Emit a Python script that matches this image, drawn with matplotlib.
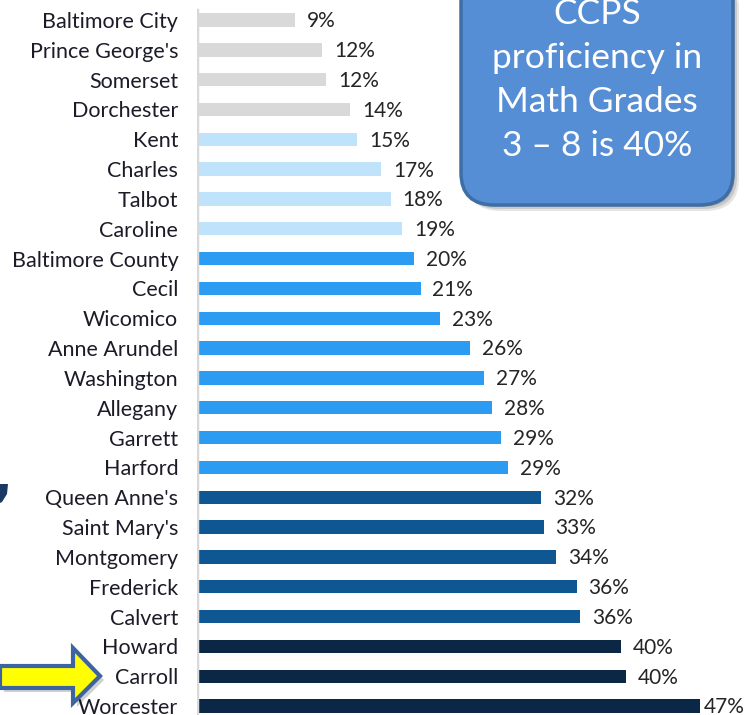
import matplotlib
matplotlib.use("Agg")
import matplotlib.pyplot as plt
from matplotlib.patches import FancyBboxPatch, Polygon

# data (top to bottom)
counties = ["Baltimore City", "Prince George's", "Somerset", "Dorchester", "Kent",
            "Charles", "Talbot", "Caroline", "Baltimore County", "Cecil", "Wicomico",
            "Anne Arundel", "Washington", "Allegany", "Garrett", "Harford",
            "Queen Anne's", "Saint Mary's", "Montgomery", "Frederick", "Calvert",
            "Howard", "Carroll", "Worcester"]
values = [9.2, 11.7, 12.1, 14.3, 15.0, 17.2, 18.1, 19.2, 20.3, 20.9, 22.7,
          25.5, 26.8, 27.6, 28.4, 29.1, 32.2, 32.4, 33.6, 35.5, 35.8,
          39.6, 40.1, 47.0]
labels = ["9%", "12%", "12%", "14%", "15%", "17%", "18%", "19%", "20%", "21%", "23%",
          "26%", "27%", "28%", "29%", "29%", "32%", "33%", "34%", "36%", "36%",
          "40%", "40%", "47%"]
groups = [0] * 4 + [1] * 4 + [2] * 8 + [3] * 5 + [4] * 3
group_colors = ["#d9d9d9", "#bfe3fb", "#2b9cf2", "#0f5792", "#0a2846"]

W, H = 749, 715
fig = plt.figure(figsize=(W / 100, H / 100), dpi=100)
fig.patch.set_facecolor("white")


def fx(x):
    return x / W


def fy(y):
    return 1 - y / H


ax = fig.add_axes([fx(197), 0, 1 - fx(197), 1])
ax.set_xlim(0, 51.6)
ax.set_ylim(23.3, -0.67)
ypos = list(range(len(counties)))
ax.barh(ypos, values, height=0.45, color=[group_colors[g] for g in groups])
for i, (v, lab) in enumerate(zip(values, labels)):
    off = 3 if i == len(values) - 1 else 8.5
    ax.annotate(lab, (v, i), xytext=(off, -1), textcoords="offset points",
                va="center", ha="left", fontsize=15, family="Lato", color="#252525")
ax.set_yticks(ypos)
ax.set_yticklabels(counties, fontsize=15.5, family="Lato", color="#1c1c28")
ax.tick_params(axis="y", length=0, pad=13.5)
ax.set_xticks([])
for s in ["top", "right", "bottom", "left"]:
    ax.spines[s].set_visible(False)
ax.axvline(0, ymin=0, ymax=1 - 10 / H, color="#d9d9d9", lw=2.5)

# callout box with shadow
for off, a in [(6, 0.10), (4, 0.12), (2, 0.15)]:
    sh = FancyBboxPatch((fx(461 + off), fy(205 + off)), fx(272), fy(-30) - fy(205),
                        boxstyle="round,pad=0,rounding_size=0.045",
                        transform=fig.transFigure, facecolor="black", alpha=a,
                        edgecolor="none", clip_on=False)
    fig.patches.append(sh)
box = FancyBboxPatch((fx(461), fy(205)), fx(272), fy(-30) - fy(205),
                     boxstyle="round,pad=0,rounding_size=0.045",
                     transform=fig.transFigure, facecolor="#558ed5",
                     edgecolor="#3e6ea6", lw=2.5, clip_on=False)
fig.patches.append(box)
box_lines = ["CCPS", "proficiency in", "Math Grades", "3 \u2013 8 is 40%"]
for k, line in enumerate(box_lines):
    fig.text(fx(597), fy(14 + 44 * k), line, ha="center", va="center",
             fontsize=25.5, family="Lato", color="white")

# yellow arrow with shadow
arrow_pts = [(0, 666), (73, 666), (73, 648), (100, 676), (73, 703), (73, 688), (0, 688)]
shadow = Polygon([(fx(x + 4), fy(y + 4)) for x, y in arrow_pts], closed=True,
                 transform=fig.transFigure, facecolor="black", alpha=0.18,
                 edgecolor="none")
fig.patches.append(shadow)
arrow = Polygon([(fx(x), fy(y)) for x, y in arrow_pts], closed=True,
                transform=fig.transFigure, facecolor="#ffff00",
                edgecolor="#3e64a0", lw=3, joinstyle="miter")
fig.patches.append(arrow)

# cut-off logo fragment at left edge
logo = Polygon([(fx(0), fy(484)), (fx(8), fy(484)), (fx(7), fy(494)),
                (fx(2), fy(502)), (fx(0), fy(503))], closed=True,
               transform=fig.transFigure, facecolor="#1b3a63", edgecolor="none")
fig.patches.append(logo)

fig.savefig("out.png", dpi=100)
